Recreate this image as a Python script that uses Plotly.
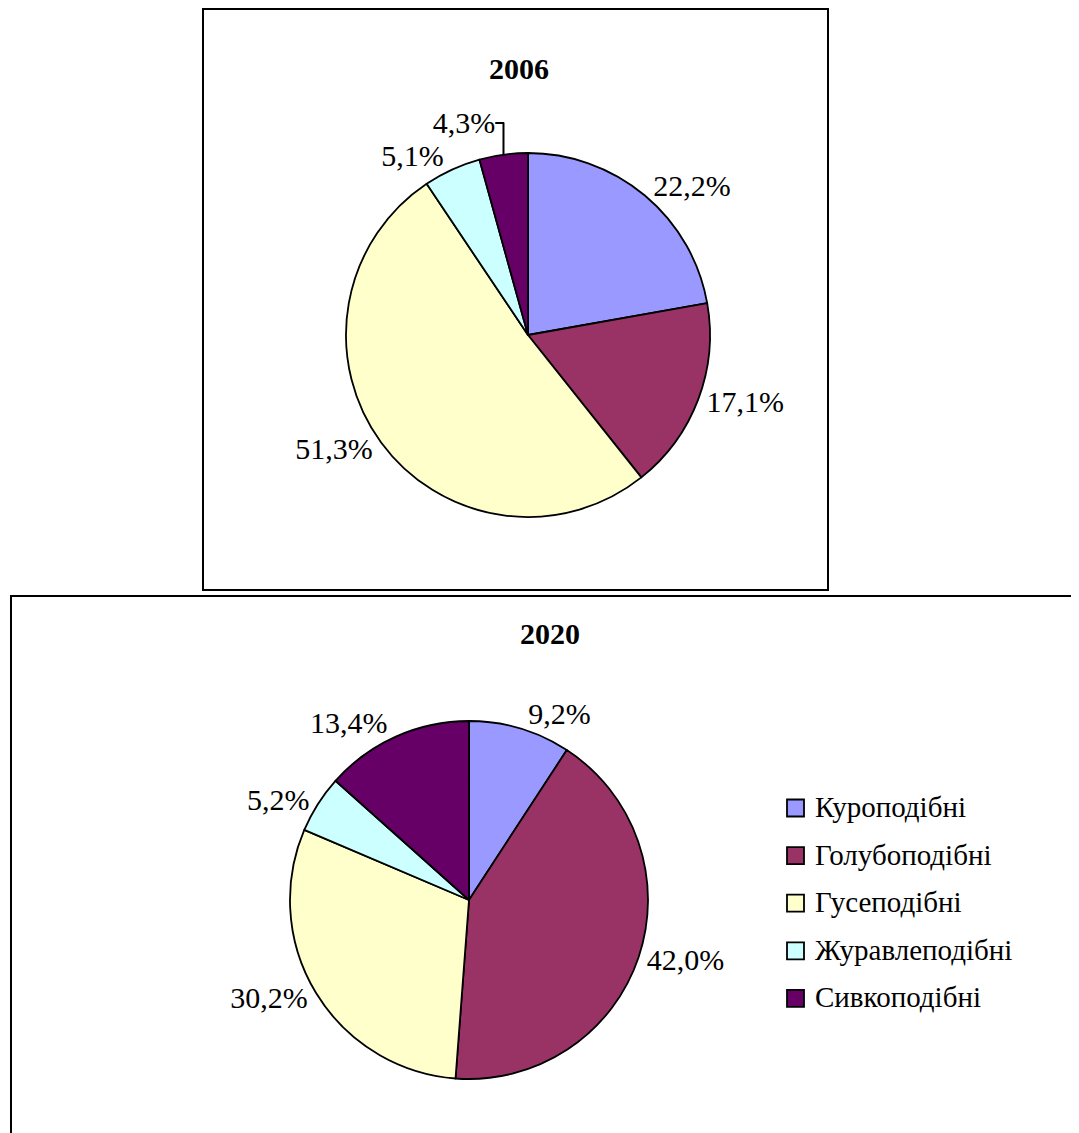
import plotly.graph_objects as go

categories = ["Куроподібні", "Голубоподібні", "Гусеподібні", "Журавлеподібні", "Сивкоподібні"]
values_2006 = [22.2, 17.1, 51.3, 5.1, 4.3]
values_2020 = [9.2, 42.0, 30.2, 5.2, 13.4]
colors = ["#9999FF", "#993366", "#FFFFCC", "#CCFFFF", "#660066"]

W, H = 1079, 1133
OFF = 8  # page body margin
FONT = "Liberation Serif, Times New Roman, serif"
FS = 30


def fmt(v):
    return f"{v:.1f}".replace(".", ",") + "%"


def px_x(x):
    return (x - OFF) / W


def px_y(y):
    return 1 - (y - OFF) / H


fig = go.Figure()

fig.add_trace(go.Pie(
    labels=categories, values=values_2006, sort=False, direction="clockwise", rotation=0,
    marker=dict(colors=colors, line=dict(color="black", width=1.8)),
    text=[fmt(v) for v in values_2006], textinfo="text", textposition="outside",
    textfont=dict(family=FONT, size=FS, color="black"),
    domain=dict(x=[px_x(346), px_x(710)], y=[px_y(517), px_y(153)]),
    showlegend=False, hoverinfo="label+percent",
))
fig.add_trace(go.Pie(
    labels=categories, values=values_2020, sort=False, direction="clockwise", rotation=0,
    marker=dict(colors=colors, line=dict(color="black", width=1.8)),
    text=[fmt(v) for v in values_2020], textinfo="text", textposition="outside",
    textfont=dict(family=FONT, size=FS, color="black"),
    domain=dict(x=[px_x(290), px_x(648)], y=[px_y(1079), px_y(721)]),
    showlegend=False, hoverinfo="label+percent",
))

shapes = [
    dict(type="rect", xref="paper", yref="paper", x0=px_x(203), x1=px_x(828), y0=px_y(590), y1=px_y(9),
         line=dict(color="black", width=2)),
    dict(type="rect", xref="paper", yref="paper", x0=px_x(11), x1=px_x(1100), y0=px_y(1160), y1=px_y(596),
         line=dict(color="black", width=2)),
]
annotations = [
    dict(text="<b>2006</b>", x=px_x(519), y=px_y(50), xref="paper", yref="paper", showarrow=False,
         font=dict(family=FONT, size=FS, color="black")),
    dict(text="<b>2020</b>", x=px_x(550), y=px_y(633), xref="paper", yref="paper", showarrow=False,
         font=dict(family=FONT, size=FS, color="black")),
]

# legend (built from categories and colors)
leg_x, leg_y0, leg_dy, sq = 787, 808, 47.6, 17
for i, (cat, col) in enumerate(zip(categories, colors)):
    yc = leg_y0 + i * leg_dy
    shapes.append(dict(type="rect", xref="paper", yref="paper",
                       x0=px_x(leg_x), x1=px_x(leg_x + sq), y0=px_y(yc + sq / 2), y1=px_y(yc - sq / 2),
                       fillcolor=col, line=dict(color="black", width=1.8)))
    annotations.append(dict(text=cat, x=px_x(leg_x + sq + 9), y=px_y(yc - 1), xref="paper", yref="paper",
                            xanchor="left", yanchor="middle", showarrow=False,
                            font=dict(family=FONT, size=FS - 1, color="black")))

fig.update_layout(
    width=W, height=H, margin=dict(l=0, r=0, t=0, b=0),
    paper_bgcolor="white", plot_bgcolor="white",
    shapes=shapes, annotations=annotations,
)

fig.write_html("out.html")
